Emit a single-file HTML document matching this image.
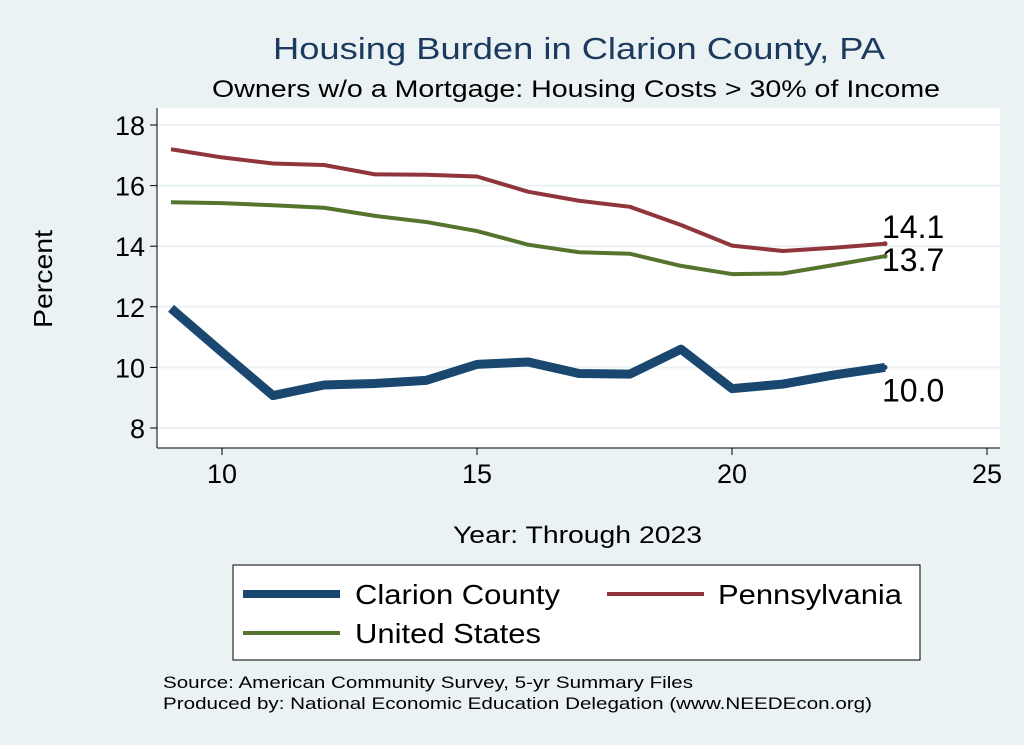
<!DOCTYPE html>
<html><head><meta charset="utf-8"><style>
body{margin:0;background:#eaf2f3;font-family:"Liberation Sans",sans-serif;}
svg{display:block}
text{font-family:"Liberation Sans",sans-serif}
</style></head><body>
<svg id="chart" width="1024" height="745">
<rect width="1024" height="745" fill="#eaf2f3"/>
<text x="273" y="59" font-size="31" fill="#1c3a5e" textLength="612" lengthAdjust="spacingAndGlyphs">Housing Burden in Clarion County, PA</text>
<text x="212" y="97" font-size="24" fill="#000" textLength="728" lengthAdjust="spacingAndGlyphs">Owners w/o a Mortgage: Housing Costs &gt; 30% of Income</text>
<rect x="157" y="108" width="843" height="340" fill="#fff"/>
<g id="grid"></g><g id="axes"></g><g id="series"></g>
<text x="52" y="279" font-size="26" text-anchor="middle" transform="rotate(-90 52 279)" textLength="98" lengthAdjust="spacingAndGlyphs">Percent</text>
<text x="453" y="543" font-size="24" textLength="249" lengthAdjust="spacingAndGlyphs">Year: Through 2023</text>
<g>
<rect x="233" y="565" width="687" height="95" fill="#fff" stroke="#000" stroke-width="1"/>
<line x1="243" y1="594" x2="340" y2="594" stroke="#1a476f" stroke-width="8"/>
<text x="355" y="604" font-size="28" textLength="205" lengthAdjust="spacingAndGlyphs">Clarion County</text>
<line x1="607" y1="594" x2="704" y2="594" stroke="#90353b" stroke-width="4"/>
<text x="718" y="604" font-size="28" textLength="184" lengthAdjust="spacingAndGlyphs">Pennsylvania</text>
<line x1="243" y1="633" x2="340" y2="633" stroke="#55752f" stroke-width="4"/>
<text x="355" y="643" font-size="28" textLength="186" lengthAdjust="spacingAndGlyphs">United States</text>
</g>
<text x="163" y="688" font-size="17" textLength="530" lengthAdjust="spacingAndGlyphs">Source: American Community Survey, 5-yr Summary Files</text>
<text x="163" y="709" font-size="17" textLength="709" lengthAdjust="spacingAndGlyphs">Produced by: National Economic Education Delegation (www.NEEDEcon.org)</text>
</svg>
<script>
const years=[9,10,11,12,13,14,15,16,17,18,19,20,21,22,23];
const clarion=[11.95,10.5,9.07,9.42,9.47,9.57,10.1,10.18,9.8,9.78,10.6,9.3,9.45,9.75,10.0];
const penn=[17.2,16.93,16.73,16.68,16.37,16.36,16.3,15.8,15.5,15.3,14.7,14.02,13.84,13.95,14.08];
const us=[15.45,15.42,15.35,15.27,15.0,14.8,14.5,14.05,13.8,13.75,13.35,13.08,13.1,13.38,13.67];
const xTicks=[10,15,20,25];
const yTicks=[8,10,12,14,16,18];
const NS='http://www.w3.org/2000/svg';
const xS=v=>222+(v-10)*51;
const yS=v=>428-(v-8)*30.3;
function mk(t,a,p){const e=document.createElementNS(NS,t);for(const k in a)e.setAttribute(k,a[k]);p.appendChild(e);return e;}
const grid=document.getElementById('grid'),axes=document.getElementById('axes'),ser=document.getElementById('series');
mk('line',{x1:157,y1:448,x2:1000,y2:448,stroke:'#000','stroke-width':1},axes);
mk('line',{x1:157,y1:108,x2:157,y2:448,stroke:'#000','stroke-width':1},axes);
yTicks.forEach(v=>{
 const g=mk('line',{x1:157,y1:yS(v),x2:1000,y2:yS(v),stroke:'#eaf2f3','stroke-width':2},grid);
 
 
 mk('line',{x1:150,y1:yS(v),x2:157,y2:yS(v),stroke:'#000'},axes);
 const t=mk('text',{x:145,y:yS(v)+10,'font-size':27,'text-anchor':'end'},axes);t.textContent=v;
 
 
});
xTicks.forEach(v=>{
 mk('line',{x1:xS(v),y1:448,x2:xS(v),y2:455,stroke:'#000'},axes);
 const t=mk('text',{x:xS(v),y:483,'font-size':27,'text-anchor':'middle'},axes);t.textContent=v;
 
 
});
function line(vals,col,w,name,lx,ly){
 const p=mk('polyline',{points:years.map((y,i)=>xS(y)+','+yS(vals[i])).join(' '),fill:'none',stroke:col,'stroke-width':w,'stroke-linejoin':'round'},ser);
 
 
 const n=vals.length-1;
 mk('circle',{cx:xS(years[n]),cy:yS(vals[n]),r:2.5,fill:col},ser);
 const t=mk('text',{x:xS(years[n])+lx,y:yS(vals[n])+ly,'font-size':32},ser);t.textContent=vals[n].toFixed(1);
 
 
}
line(us,'#55752f',4,'line-united-states',-3,15);
line(penn,'#90353b',4,'line-pennsylvania',-3,-6);
line(clarion,'#1a476f',9,'line-clarion-county',-3,34);
</script>
</body></html>
